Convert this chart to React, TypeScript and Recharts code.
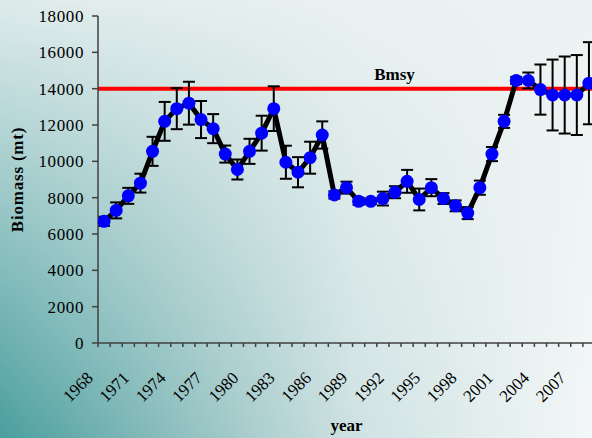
import { LineChart, Line, XAxis, YAxis, ReferenceLine, ErrorBar } from "recharts";

const years = [
  1968, 1969, 1970, 1971, 1972, 1973, 1974, 1975, 1976, 1977, 1978, 1979, 1980, 1981,
  1982, 1983, 1984, 1985, 1986, 1987, 1988, 1989, 1990, 1991, 1992, 1993, 1994, 1995,
  1996, 1997, 1998, 1999, 2000, 2001, 2002, 2003, 2004, 2005, 2006, 2007, 2008
];

const biomass = [
  6700, 7300, 8100, 8800, 10550, 12200, 12900, 13200, 12300, 11800, 10400, 9550, 10550, 11550,
  12900, 9950, 9400, 10200, 11450, 8150, 8550, 7800, 7800, 7950, 8300, 8900, 7900, 8550,
  7950, 7550, 7150, 8550, 10400, 12200, 14450, 14450, 13950, 13650, 13650, 13650, 14300
];

// +/- error on each estimate
const errors = [
  250, 440, 440, 520, 800, 1070, 1130, 1180, 1020, 800, 470, 550, 690, 960,
  1230, 910, 830, 880, 750, 200, 330, 200, 150, 380, 330, 630, 600, 470,
  300, 300, 330, 390, 390, 360, 200, 440, 1380, 1950, 2120, 2200, 2260
];

const labelYears = [1968, 1971, 1974, 1977, 1980, 1983, 1986, 1989, 1992, 1995, 1998, 2001, 2004, 2007];
const yTicks = [0, 2000, 4000, 6000, 8000, 10000, 12000, 14000, 16000, 18000];
const bmsy = 14000;

const rows = years.map((year, i) => ({ year, biomass: biomass[i], err: errors[i] }));
// tick marks sit between the years, like the category axis in the original
const boundaries = [...years.map((y) => y - 0.5), years[years.length - 1] + 0.5];

const serif = "'Liberation Serif', 'Times New Roman', serif";

function YearTick({ x, y, payload }: { x?: number; y?: number; payload?: { value: number } }) {
  if (x == null || y == null || !payload) return <g />;
  const yr = payload.value + 0.5;
  if (!labelYears.includes(yr)) return <g />;
  const tx = x - 4;
  const ty = y + 30;
  return (
    <text
      x={tx}
      y={ty}
      transform={`rotate(-45, ${tx}, ${ty})`}
      textAnchor="end"
      fontFamily={serif}
      fontSize={17}
      fill="#000"
    >
      {yr}
    </text>
  );
}

export default function App() {
  return (
    <div
      style={{
        position: "fixed",
        left: 0,
        top: 0,
        width: 592,
        height: 438,
        overflow: "hidden",
        background:
          "linear-gradient(to bottom, rgba(236,242,242,0.92) 0%, rgba(236,242,242,0.55) 40%, rgba(236,242,242,0) 100%), linear-gradient(to right, #4a9e9e 0%, #8fbfbf 30%, #cfe2e2 60%, #f3f7f7 100%)"
      }}
    >
      <LineChart width={600} height={438} data={rows} margin={{ top: 16, right: 5, bottom: 0, left: 0 }}>
        <XAxis
          dataKey="year"
          type="number"
          domain={[1967.5, 2008.5]}
          allowDataOverflow
          ticks={boundaries}
          interval={0}
          height={95}
          tickSize={4}
          tickLine={{ stroke: "#404040", strokeWidth: 1.5 }}
          axisLine={{ stroke: "#404040", strokeWidth: 1.5 }}
          tick={<YearTick />}
          label={{
            value: "year",
            position: "insideBottom",
            offset: 7,
            fill: "#000",
            fontFamily: serif,
            fontSize: 17,
            fontWeight: "bold"
          }}
        />
        <YAxis
          type="number"
          domain={[0, 18000]}
          ticks={yTicks}
          interval={0}
          width={98}
          tickSize={6}
          tickMargin={8}
          tickLine={{ stroke: "#404040", strokeWidth: 1.5 }}
          axisLine={{ stroke: "#404040", strokeWidth: 1.5 }}
          tick={{ fill: "#000", fontFamily: serif, fontSize: 17, letterSpacing: 0.6 }}
          label={{
            value: "Biomass (mt)",
            angle: -90,
            position: "insideLeft",
            offset: 17,
            fill: "#000",
            fontFamily: serif,
            fontSize: 17,
            fontWeight: "bold",
            letterSpacing: 0.8,
            style: { textAnchor: "middle" }
          }}
        />
        <ReferenceLine
          y={bmsy}
          stroke="#ff0000"
          strokeWidth={4}
          label={{
            value: "Bmsy",
            position: "top",
            dx: 48,
            offset: 9,
            fill: "#000",
            fontFamily: serif,
            fontSize: 17,
            fontWeight: "bold"
          }}
        />
        <Line
          type="linear"
          dataKey="biomass"
          stroke="#000"
          strokeWidth={5}
          dot={{ r: 6.5, fill: "#0000ff", stroke: "#0000ff", strokeWidth: 0 }}
          activeDot={false}
          isAnimationActive={false}
        >
          <ErrorBar dataKey="err" direction="y" width={6} stroke="#000" strokeWidth={2} />
        </Line>
      </LineChart>
    </div>
  );
}
